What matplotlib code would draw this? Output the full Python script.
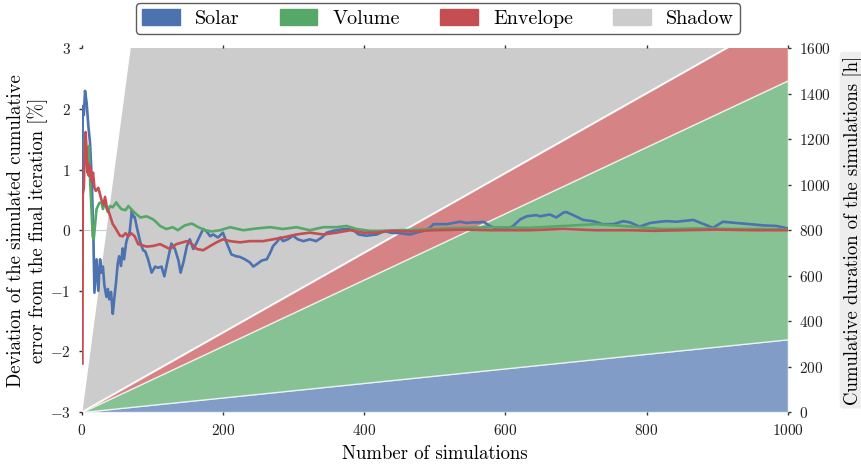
import numpy as np
import matplotlib
matplotlib.use("Agg")
import matplotlib.pyplot as plt
from matplotlib.patches import Patch

plt.rcParams["font.family"] = "serif"
plt.rcParams["font.serif"] = ["cmr10", "DejaVu Serif"]
plt.rcParams["mathtext.fontset"] = "cm"
plt.rcParams["axes.formatter.use_mathtext"] = True

# cumulative duration of the simulations [h] (stacked areas, right axis)
sims = [0, 1000]
solar_h = [0, 320]
volume_h = [0, 1140]
envelope_h = [0, 295]
shadow_h = [0, 21650]

# deviation of the cumulative error [%] (left axis)
solar_x = [1, 1.4, 3, 4.7, 7, 9.4, 11.7, 14, 16.5, 18, 21, 23.5, 26, 28, 30, 32, 35, 37, 39, 41.5,
           44, 46, 48.6, 51, 53, 55.6, 58, 60, 63, 65, 68, 71, 73, 75, 78, 83, 87, 90, 94, 99,
           104, 108, 113, 117, 122, 127, 132, 137, 140, 144, 149, 153, 158, 163, 167, 172, 177, 182, 186, 193,
           200, 205, 212, 219, 224, 231, 238, 243, 248, 255, 262, 267, 271, 276, 281, 285, 292, 299, 306, 314,
           323, 332, 340, 347, 356, 366, 375, 382, 392, 403, 418, 429, 437, 451, 465, 474, 484, 493, 498, 507,
           517, 526, 536, 545, 554, 564, 569, 578, 587, 602, 611, 621, 630, 644, 649, 663, 672, 682, 686, 696,
           710, 724, 738, 753, 767, 776, 790, 805, 819, 828, 842, 866, 894, 908, 927, 946, 965, 984, 1000]
solar_y = [0.55, 2.05, 1.9, 2.3, 2.1, 1.72, 1.45, 0.9, -0.09, -1.03, -0.48, -1.0, -0.48, -0.7, -0.6, -0.9, -1.1, -0.97, -1.14, -1.02,
           -1.38, -1.14, -0.86, -0.55, -0.43, -0.59, -0.3, -0.48, -0.2, -0.12, -0.02, 0.33, 0.22, 0.22, 0.05, -0.2, -0.33, -0.35, -0.48, -0.7,
           -0.6, -0.62, -0.6, -0.76, -0.48, -0.22, -0.31, -0.5, -0.7, -0.53, -0.26, -0.15, -0.31, -0.2, -0.1, 0.02, -0.02, -0.1, -0.07, -0.12,
           -0.04, -0.2, -0.4, -0.43, -0.44, -0.48, -0.53, -0.6, -0.56, -0.5, -0.48, -0.37, -0.26, -0.2, -0.12, -0.18, -0.15, -0.09, -0.15, -0.18,
           -0.15, -0.18, -0.12, -0.04, -0.01, 0.01, 0.02, 0.03, -0.07, -0.09, -0.07, -0.01, -0.04, -0.05, -0.07, -0.04, -0.01, 0.04, 0.1, 0.1,
           0.1, 0.12, 0.14, 0.12, 0.13, 0.13, 0.14, 0.07, 0.03, 0.02, 0.07, 0.18, 0.23, 0.25, 0.23, 0.26, 0.21, 0.29, 0.3, 0.25,
           0.17, 0.15, 0.1, 0.1, 0.15, 0.13, 0.06, 0.12, 0.14, 0.15, 0.14, 0.17, 0.04, 0.14, 0.12, 0.1, 0.08, 0.07, 0.03]

volume_x = [8, 10, 12, 14, 15.5, 17, 19, 21, 25, 28, 30, 33, 37, 40, 44, 49, 51, 56, 62, 66,
            70, 74, 78, 83, 92, 101, 106, 111, 120, 129, 136, 146, 156, 165, 175, 184, 196, 210, 229, 248,
            267, 285, 304, 323, 342, 361, 375, 389, 408, 427, 450, 480, 510, 540, 580, 635, 682, 729, 767, 800,
            824, 870, 920, 960, 1000]
volume_y = [1.3, 1.39, 0.8, 0.3, -0.1, -0.15, 0.1, 0.35, 0.45, 0.46, 0.35, 0.45, 0.3, 0.4, 0.38, 0.46, 0.42, 0.35, 0.33, 0.4,
            0.35, 0.3, 0.26, 0.21, 0.23, 0.18, 0.13, 0.07, 0.02, 0.05, 0.0, 0.08, 0.11, 0.05, 0.0, -0.02, 0.0, 0.05, 0.0, 0.03,
            0.05, 0.02, 0.05, 0.0, 0.05, 0.05, 0.07, 0.02, -0.01, -0.01, 0.0, 0.01, 0.03, 0.04, 0.05, 0.04, 0.07, 0.1, 0.07, 0.04,
            0.02, 0.03, 0.02, 0.02, 0.01]

envelope_x = [1, 1.5, 3, 4, 5.5, 7, 8, 9, 10, 12, 14, 16, 18, 20, 23.5, 28, 31, 33, 36, 39,
              44, 47, 51, 54, 58, 62, 66, 70, 75, 80, 92, 101, 111, 125, 134, 149, 156, 163, 172, 182,
              191, 200, 210, 224, 238, 257, 271, 285, 304, 323, 342, 361, 380, 399, 418, 437, 465, 500, 540, 580,
              635, 682, 729, 776, 810, 850, 900, 950, 1000]
envelope_y = [-2.2, 0.6, 0.7, 1.2, 1.62, 1.3, 0.95, 1.1, 0.9, 1.05, 0.8, 0.95, 0.7, 0.65, 0.7, 0.5, 0.42, 0.55, 0.35, 0.28,
              0.1, 0.05, -0.03, -0.09, -0.1, -0.05, -0.1, -0.05, -0.1, -0.23, -0.27, -0.26, -0.23, -0.31, -0.23, -0.18, -0.23, -0.31, -0.33, -0.26,
              -0.2, -0.15, -0.18, -0.2, -0.18, -0.18, -0.15, -0.12, -0.07, -0.04, -0.07, -0.04, 0.0, -0.04, -0.04, -0.01, -0.02, 0.0, 0.01, 0.0,
              0.0, 0.02, 0.0, 0.0, -0.01, 0.0, 0.01, 0.0, 0.0]

labels = ["Solar", "Volume", "Envelope", "Shadow"]
colors = ["#4C72B0", "#55A868", "#C44E52", "#CCCCCC"]

fig = plt.figure(figsize=(8.62, 4.66), dpi=100)
ax = fig.add_axes([0.0948, 0.1159, 0.8192, 0.7801])
ax2 = ax.twinx()

# areas on the right axis, drawn behind the lines
ax2.stackplot(sims, solar_h, volume_h, envelope_h, shadow_h,
              colors=colors, alpha=0.7, edgecolor="white", linewidth=1)
ax2.collections[-1].set_alpha(1.0)
ax2.set_ylim(0, 1600)
ax2.set_yticks(np.arange(0, 1601, 200))
ax2.set_ylabel("Cumulative duration of the simulations [h]", fontsize=13.5,
               labelpad=9,
               bbox=dict(boxstyle="round,pad=0.2", fc="#eeeeee", ec="none"))

ax.set_zorder(ax2.get_zorder() + 1)
ax.patch.set_visible(False)
ax.axhline(0, color="#cccccc", lw=0.8, zorder=0)
ax.plot(solar_x, solar_y, color=colors[0], lw=1.9)
ax.plot(volume_x, volume_y, color=colors[1], lw=1.9)
ax.plot(envelope_x, envelope_y, color=colors[2], lw=1.9)

ax.set_xlim(0, 1000)
ax.set_ylim(-3, 3)
ax.set_xticks(np.arange(0, 1001, 200))
ax.set_yticks(np.arange(-3, 4, 1))
ax.set_xlabel("Number of simulations", fontsize=13.5, labelpad=5)
ax.set_ylabel("Deviation of the simulated cumulative\nerror from the final iteration [%]",
              fontsize=13.5, labelpad=1)

for a in (ax, ax2):
    for s in a.spines.values():
        s.set_visible(False)
    a.tick_params(length=2, width=1, color="#333333", labelsize=11,
                  labelcolor="#222222", pad=6)
ax.tick_params(top=True)

handles = [Patch(color=c) for c in colors]
fig.legend(handles, labels, loc="upper center", bbox_to_anchor=(0.508, 0.993),
           ncol=4, fontsize=14.5, frameon=True, fancybox=True, edgecolor="#333333",
           handlelength=1.88, handleheight=0.8, handletextpad=0.74, columnspacing=2.0,
           borderpad=0.3, borderaxespad=0.0)

fig.savefig("out.png", dpi=100)
